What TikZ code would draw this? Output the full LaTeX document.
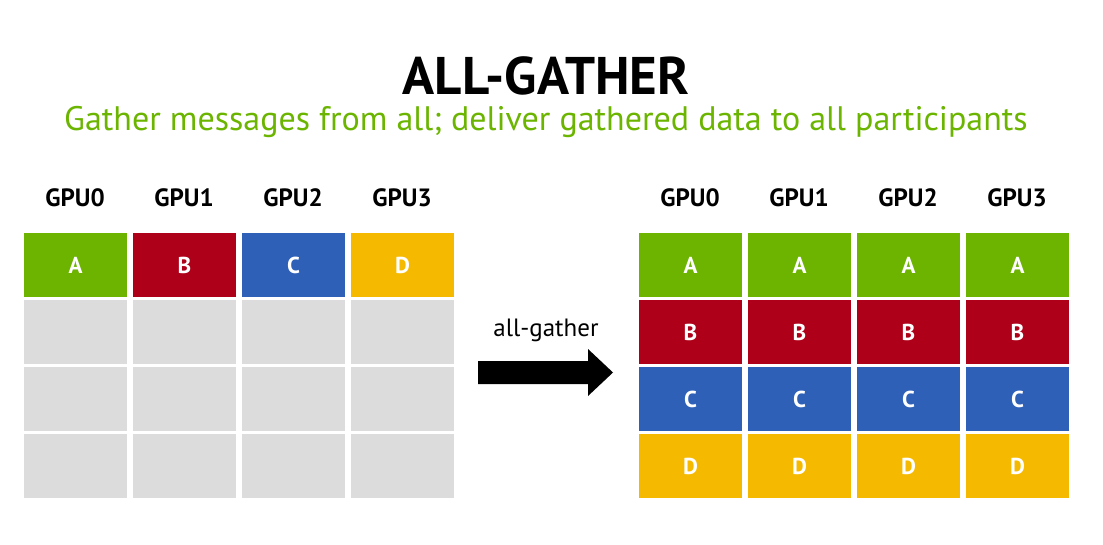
\documentclass[tikz,border=0pt]{standalone}
\usepackage{fontspec}
\setmainfont{PT Sans}
\usetikzlibrary{positioning}
\definecolor{nvgreen}{HTML}{6BB500}
\definecolor{cellgreen}{HTML}{6CB400}
\definecolor{cellred}{HTML}{AE0019}
\definecolor{cellblue}{HTML}{2E60B8}
\definecolor{cellyellow}{HTML}{F5B900}
\definecolor{cellgray}{HTML}{DCDCDC}
\tikzset{
  cell/.style={draw=white, line width=1pt, minimum width=104pt, minimum height=65pt,
    inner sep=0pt, anchor=north west, text=white, font=\bfseries\fontsize{23}{23}\selectfont},
  gpulabel/.style={font=\bfseries\fontsize{25}{25}\selectfont, text=black},
}
\begin{document}
\begin{tikzpicture}[x=1pt,y=-1pt]
\useasboundingbox[fill=white] (0,0) rectangle (1103,544);

% heading
\node[font=\bfseries\fontsize{53}{53}\selectfont] (title) at (546,76) {ALL-GATHER};
\node[font=\fontsize{34}{34}\selectfont, text=nvgreen] (subtitle) at (546,122)
  {Gather messages from all; deliver gathered data to all participants};

% left side: one block per GPU
\foreach \i/\c/\l in {0/cellgreen/A,1/cellred/B,2/cellblue/C,3/cellyellow/D}{
  \pgfmathsetmacro{\xx}{23+109*\i}
  \node[gpulabel] (lg\i) at (\xx+52,198) {GPU\i};
  \node[cell, fill=\c] (l\i r0) at (\xx,232) {\l};
  \foreach \r in {1,2,3}{
    \node[cell, fill=cellgray] (l\i r\r) at (\xx,232+67*\r) {};
  }
}

% right side: every GPU holds all blocks
\foreach \i in {0,1,2,3}{
  \pgfmathsetmacro{\xx}{638+109*\i}
  \node[gpulabel] (rg\i) at (\xx+52,198) {GPU\i};
  \foreach \r/\c/\l in {0/cellgreen/A,1/cellred/B,2/cellblue/C,3/cellyellow/D}{
    \node[cell, fill=\c] (r\i r\r) at (\xx,232+67*\r) {\l};
  }
}

% operation arrow
\coordinate (atail) at (478,372.5);
\coordinate (atip) at (613,372.5);
\fill[black] (478,361) -- (588,361) -- (588,349) -- (atip) -- (588,396) -- (588,384) -- (478,384) -- cycle;
\node[font=\fontsize{25}{25}\selectfont] (alabel) at (546,330) {all-gather};
\end{tikzpicture}
\end{document}
